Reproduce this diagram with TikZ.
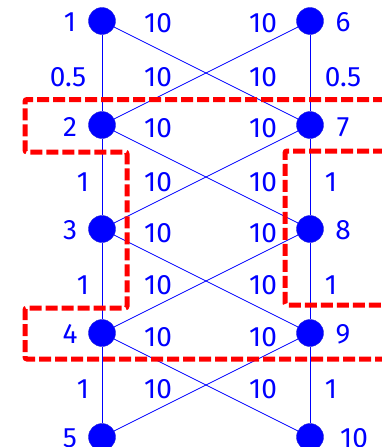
\documentclass[tikz,border=0pt]{standalone}
\usepackage{fontspec}
\setmainfont{Fira Sans}
\usetikzlibrary{positioning}

\begin{document}
\begin{tikzpicture}[
    x=1pt, y=-1pt,
    vert/.style={circle, fill=blue, draw=blue!70!gray, minimum size=27pt, inner sep=0pt},
    lbl/.style={text=blue, inner sep=0pt, font=\fontsize{28}{32}\selectfont},
    link/.style={blue, line width=0.7pt},
    cut/.style={red, line width=5pt, dash pattern=on 12pt off 4pt, rounded corners=2pt}
]
\useasboundingbox (0,0) rectangle (381,447);

% vertices
\node[vert] (n1) at (102,21) {};
\node[vert] (n2) at (102,125) {};
\node[vert] (n3) at (102,229) {};
\node[vert] (n4) at (102,333) {};
\node[vert] (n5) at (102,437) {};
\node[vert] (n6) at (310,21) {};
\node[vert] (n7) at (310,125) {};
\node[vert] (n8) at (310,229) {};
\node[vert] (n9) at (310,333) {};
\node[vert] (n10) at (310,437) {};

% vertex numbers
\node[lbl] (t1) at (70,22) {1};
\node[lbl] (t2) at (70,127) {2};
\node[lbl] (t3) at (70,230) {3};
\node[lbl] (t4) at (70,334) {4};
\node[lbl] (t5) at (70,438) {5};
\node[lbl] (t6) at (343,22) {6};
\node[lbl] (t7) at (343,127) {7};
\node[lbl] (t8) at (343,230) {8};
\node[lbl] (t9) at (343,334) {9};
\node[lbl] (t10) at (354,438) {10};

% edges
\draw[link] (n1) -- (n2) -- (n3) -- (n4) -- (n5);
\draw[link] (n6) -- (n7) -- (n8) -- (n9) -- (n10);
\draw[link] (n1) -- (n7);
\draw[link] (n6) -- (n2);
\draw[link] (n2) -- (n8);
\draw[link] (n7) -- (n3);
\draw[link] (n3) -- (n9);
\draw[link] (n8) -- (n4);
\draw[link] (n4) -- (n10);
\draw[link] (n9) -- (n5);

% weights on the sides
\node[lbl] (a1) at (68,77) {0.5};
\node[lbl] (a2) at (83,182) {1};
\node[lbl] (a3) at (83,285) {1};
\node[lbl] (a4) at (83,389) {1};
\node[lbl] (b1) at (343,77) {0.5};
\node[lbl] (b2) at (331,182) {1};
\node[lbl] (b3) at (331,285) {1};
\node[lbl] (b4) at (331,389) {1};

% weights on the crossings
\node[lbl] (c1) at (158,23) {10};
\node[lbl] (c2) at (158,77) {10};
\node[lbl] (c3) at (158,128) {10};
\node[lbl] (c4) at (158,182) {10};
\node[lbl] (c5) at (158,233) {10};
\node[lbl] (c6) at (158,285) {10};
\node[lbl] (c7) at (158,337) {10};
\node[lbl] (c8) at (158,389) {10};
\node[lbl] (d1) at (263,23) {10};
\node[lbl] (d2) at (263,77) {10};
\node[lbl] (d3) at (263,128) {10};
\node[lbl] (d4) at (263,182) {10};
\node[lbl] (d5) at (263,233) {10};
\node[lbl] (d6) at (263,285) {10};
\node[lbl] (d7) at (263,337) {10};
\node[lbl] (d8) at (263,389) {10};

% cut outlines
\draw[cut] (385,99.5) -- (25,99.5) -- (25,152) -- (127,152) -- (127,308)
    -- (25,308) -- (25,359) -- (385,359);
\draw[cut] (385,151) -- (285,151) -- (285,305) -- (385,305);
\end{tikzpicture}
\end{document}
